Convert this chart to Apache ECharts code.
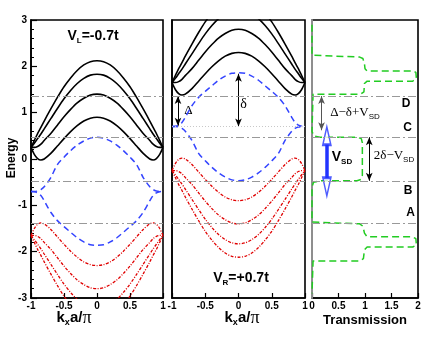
<!DOCTYPE html>
<html>
<head>
<meta charset="utf-8">
<script src="https://cdn.jsdelivr.net/npm/echarts@6/dist/echarts.min.js"></script>
<style>
  html, body { margin: 0; padding: 0; background: #fff; }
  #chart { width: 436px; height: 337px; }
</style>
</head>
<body>
<div id="chart"></div>
<script>
// k_x a / pi, half range (bands are symmetric in k)
var kHalf = [0, 0.1, 0.2, 0.3, 0.4, 0.5, 0.6, 0.7, 0.8, 0.85, 0.9, 0.95, 1];

// left lead, V_L = -0.7t
var leftBlack1 = [0.90, 0.88, 0.82, 0.72, 0.59, 0.44, 0.28, 0.12, 0.00, -0.02, 0.01, 0.10, 0.25];
var leftBlack2 = [1.40, 1.38, 1.31, 1.21, 1.07, 0.91, 0.73, 0.55, 0.40, 0.32, 0.27, 0.25, 0.25];
var leftBlack3 = [1.83, 1.81, 1.74, 1.63, 1.48, 1.30, 1.09, 0.87, 0.65, 0.54, 0.44, 0.34, 0.25];
var leftBlack4 = [2.12, 2.10, 2.03, 1.91, 1.75, 1.56, 1.33, 1.08, 0.82, 0.68, 0.55, 0.40, 0.25];
var leftBlueUp = [0.47, 0.45, 0.39, 0.30, 0.18, 0.04, -0.12, -0.40, -0.60, -0.66, -0.69, -0.70, -0.70];
var leftBlueDn = [-1.86, -1.85, -1.79, -1.70, -1.58, -1.46, -1.33, -1.15, -0.90, -0.79, -0.73, -0.705, -0.70];
var leftRed1 = [-2.30, -2.28, -2.22, -2.12, -1.99, -1.84, -1.68, -1.52, -1.40, -1.38, -1.41, -1.50, -1.65];
var leftRed2 = [-2.80, -2.78, -2.71, -2.61, -2.47, -2.31, -2.13, -1.95, -1.80, -1.72, -1.67, -1.65, -1.65];
var leftRed3 = [-3.23, -3.21, -3.14, -3.03, -2.88, -2.70, -2.49, -2.27, -2.05, -1.94, -1.84, -1.74, -1.65];
var leftRed4 = [-3.52, -3.50, -3.43, -3.31, -3.15, -2.96, -2.73, -2.48, -2.22, -2.08, -1.95, -1.80, -1.65];

// right lead, V_R = +0.7t
var rightBlack1 = [2.30, 2.28, 2.22, 2.12, 1.99, 1.84, 1.68, 1.52, 1.40, 1.38, 1.41, 1.50, 1.65];
var rightBlack2 = [2.80, 2.78, 2.71, 2.61, 2.47, 2.31, 2.13, 1.95, 1.80, 1.72, 1.67, 1.65, 1.65];
var rightBlack3 = [3.23, 3.21, 3.14, 3.03, 2.88, 2.70, 2.49, 2.27, 2.05, 1.94, 1.84, 1.74, 1.65];
var rightBlack4 = [3.52, 3.50, 3.43, 3.31, 3.15, 2.96, 2.73, 2.48, 2.22, 2.08, 1.95, 1.80, 1.65];
var rightBlueUp = [1.86, 1.85, 1.79, 1.70, 1.58, 1.46, 1.33, 1.15, 0.90, 0.79, 0.73, 0.705, 0.70];
var rightBlueDn = [-0.47, -0.45, -0.39, -0.30, -0.18, -0.04, 0.12, 0.40, 0.60, 0.66, 0.69, 0.70, 0.70];
var rightRed1 = [-0.90, -0.88, -0.82, -0.72, -0.59, -0.44, -0.28, -0.12, 0.00, 0.02, -0.01, -0.10, -0.25];
var rightRed2 = [-1.40, -1.38, -1.31, -1.21, -1.07, -0.91, -0.73, -0.55, -0.40, -0.32, -0.27, -0.25, -0.25];
var rightRed3 = [-1.83, -1.81, -1.74, -1.63, -1.48, -1.30, -1.09, -0.87, -0.65, -0.54, -0.44, -0.34, -0.25];
var rightRed4 = [-2.12, -2.10, -2.03, -1.91, -1.75, -1.56, -1.33, -1.08, -0.82, -0.68, -0.55, -0.40, -0.25];

// transmission curve (T, E)
var transT = [0, 0, 0.02, 0.9, 0.96, 0.99, 1.0, 1.04, 1.9, 1.96, 1.97, 1.9, 1.04, 0.99, 0.98, 0.92, 0.02, 0,
              0, 0.03, 0.15, 0.85, 0.93, 0.95, 0.95, 0.93, 0.85, 0.15, 0.03, 0,
              0, 0.02, 0.9, 0.96, 0.99, 1.04, 1.9, 1.96, 1.97, 1.9, 1.04, 0.99, 0.97, 0.9, 0.02, 0, 0];
var transE = [2.9, 2.24, 2.2, 2.2, 2.17, 2.05, 1.95, 1.9, 1.9, 1.87, 1.73, 1.68, 1.68, 1.63, 1.45, 1.4, 1.4, 1.36,
              0.6, 0.5, 0.47, 0.47, 0.44, 0.35, -0.35, -0.44, -0.47, -0.47, -0.5, -0.6,
              -1.36, -1.4, -1.4, -1.45, -1.6, -1.68, -1.68, -1.72, -1.86, -1.9, -1.9, -1.96, -2.15, -2.2, -2.2, -2.24, -2.9];

// reference levels
var cutLevels = [1.36, 0.47, -0.47, -1.38];
var flatLevel = 0.7;

// annotation arrows: [x, yFrom, yTo]
var deltaBig = [-0.91, 1.36, 0.72];
var deltaSmall = [0, 1.84, 0.7];
var arrowUpper = [0.18, 1.36, 0.62];
var arrowLower = [1.08, 0.47, -0.47];
var vsdArrow = [0.28, 0.72, -0.82];

function pts(vals) {
  var out = [];
  for (var i = kHalf.length - 1; i > 0; i--) out.push([-kHalf[i], vals[i]]);
  for (var j = 0; j < kHalf.length; j++) out.push([kHalf[j], vals[j]]);
  return out;
}

var blackStyle = { color: '#000', width: 1.6, type: 'solid' };
var blueStyle = { color: '#3344ff', width: 1.5, type: [6, 4] };
var redStyle = { color: '#e00000', width: 1.3, type: [3, 1.5, 1, 1.5] };

function band(vals, idx, style) {
  return {
    type: 'line', xAxisIndex: idx, yAxisIndex: idx, data: pts(vals),
    symbol: 'none', smooth: 0.3, lineStyle: style, silent: true
  };
}

function cutLines(extra) {
  var d = cutLevels.map(function (v) { return { yAxis: v }; });
  return {
    silent: true, symbol: 'none', label: { show: false }, animation: false,
    lineStyle: { color: '#999', width: 1, type: [8, 3, 2, 3] },
    data: d.concat(extra || [])
  };
}

function arrowLine(a, color) {
  var ls = { color: color || '#000', width: 1, type: 'solid' };
  return [
    { coord: [a[0], a[1]], symbol: 'arrow', lineStyle: ls },
    { coord: [a[0], a[2]], symbol: 'arrow', lineStyle: ls }
  ];
}

var tickFont = { fontSize: 10, fontWeight: 'bold', fontFamily: 'Arial, Liberation Sans', color: '#000' };

function xAxisFor(idx, min, max) {
  return {
    gridIndex: idx, type: 'value', min: min, max: max, interval: 0.5,
    axisLine: { show: true, onZero: false, lineStyle: { color: '#000', width: 1.6 } },
    axisTick: { show: true, inside: true, length: 5, lineStyle: { color: '#000', width: 1.2 } },
    axisLabel: Object.assign({ margin: 3, showMinLabel: true, showMaxLabel: true }, tickFont),
    splitLine: { show: false }
  };
}

var series = [
  // panel 1
  Object.assign(band(leftBlack1, 0, blackStyle), { markLine: cutLines() }),
  band(leftBlack2, 0, blackStyle),
  band(leftBlack3, 0, blackStyle),
  band(leftBlack4, 0, blackStyle),
  band(leftBlueUp, 0, blueStyle),
  band(leftBlueDn, 0, blueStyle),
  band(leftRed1, 0, redStyle),
  band(leftRed2, 0, redStyle),
  band(leftRed3, 0, redStyle),
  band(leftRed4, 0, redStyle),
  // panel 2
  Object.assign(band(rightBlack1, 1, blackStyle), {
    markLine: {
      silent: true, label: { show: false }, symbol: ['arrow', 'arrow'], symbolSize: [5, 8],
      lineStyle: { color: '#000', width: 1, type: 'solid' },
      data: [arrowLine(deltaBig), arrowLine(deltaSmall)]
    }
  }),
  band(rightBlack2, 1, blackStyle),
  band(rightBlack3, 1, blackStyle),
  band(rightBlack4, 1, blackStyle),
  Object.assign(band(rightBlueUp, 1, blueStyle), {
    markLine: cutLines([{ yAxis: flatLevel, lineStyle: { color: '#c8c8c8', width: 1, type: [1, 2] } }])
  }),
  band(rightBlueDn, 1, blueStyle),
  band(rightRed1, 1, redStyle),
  band(rightRed2, 1, redStyle),
  band(rightRed3, 1, redStyle),
  band(rightRed4, 1, redStyle),
  // panel 3
  {
    type: 'line', xAxisIndex: 2, yAxisIndex: 2, silent: true, symbol: 'none',
    data: transT.map(function (t, i) { return [t, transE[i]]; }),
    lineStyle: { color: '#22cc22', width: 1.5, type: [7, 4] },
    markLine: cutLines()
  },
  {
    type: 'scatter', xAxisIndex: 2, yAxisIndex: 2, silent: true, z: 4,
    symbol: 'triangle', symbolSize: [8, 18],
    itemStyle: { color: '#fff', borderColor: '#2233ff', borderWidth: 2 },
    data: [
      { value: [vsdArrow[0], 0.50] },
      { value: [vsdArrow[0], -0.60], symbolRotate: 180 }
    ],
    markLine: {
      silent: true, label: { show: false }, symbol: 'none', symbolSize: [5, 8],
      lineStyle: { color: '#000', width: 1, type: 'solid' },
      data: [
        [
          { coord: [vsdArrow[0], 0.31], lineStyle: { color: '#2233ff', width: 3.5, type: 'solid' } },
          { coord: [vsdArrow[0], -0.41], lineStyle: { color: '#2233ff', width: 3.5, type: 'solid' } }
        ],
        arrowLine(arrowUpper, '#555'),
        arrowLine(arrowLower, '#000')
      ]
    }
  }
];

var chart = echarts.init(document.getElementById('chart'), null, { renderer: 'canvas' });

var sans = 'Arial, Liberation Sans';
var serif = 'Times New Roman, Liberation Serif';

function kLabel(cx) {
  return {
    type: 'text', x: cx, y: 318, silent: true,
    style: {
      text: '{k|k}{s|x}{k|a/}{p|π}', align: 'center', verticalAlign: 'middle',
      rich: {
        k: { fontSize: 15, fontWeight: 'bold', fontFamily: sans, lineHeight: 18 },
        s: { fontSize: 9, fontWeight: 'bold', fontFamily: sans, lineHeight: 10, verticalAlign: 'bottom' },
        p: { fontSize: 18, fontFamily: serif, lineHeight: 18 }
      }
    }
  };
}

function vLabel(cx, cy, sub, rest) {
  return {
    type: 'text', x: cx, y: cy, silent: true,
    style: {
      text: '{v|V}{s|' + sub + '}{v|' + rest + '}', align: 'center', verticalAlign: 'middle',
      rich: {
        v: { fontSize: 14, fontWeight: 'bold', fontFamily: sans, lineHeight: 18 },
        s: { fontSize: 8, fontWeight: 'bold', fontFamily: sans, lineHeight: 9, verticalAlign: 'bottom' }
      }
    }
  };
}

function plain(cx, cy, txt, font, rot) {
  return {
    type: 'text', x: cx, y: cy, rotation: rot || 0, silent: true,
    style: { text: txt, font: font, fill: '#000', align: 'center', verticalAlign: 'middle' }
  };
}

chart.setOption({
  animation: false,
  backgroundColor: '#fff',
  grid: [
    { left: 31, top: 20, width: 132, height: 278, show: true, borderColor: '#000', borderWidth: 1.6 },
    { left: 172, top: 20, width: 133, height: 278, show: true, borderColor: '#000', borderWidth: 1.6 },
    { left: 312, top: 20, width: 106, height: 278, show: true, borderColor: '#000', borderWidth: 1.6 }
  ],
  xAxis: [
    xAxisFor(0, -1, 1),
    xAxisFor(1, -1, 1),
    xAxisFor(2, 0, 2)
  ],
  yAxis: [
    {
      gridIndex: 0, type: 'value', min: -3, max: 3, interval: 1,
      axisLine: { show: true, onZero: false, lineStyle: { color: '#000', width: 1.6 } },
      axisTick: { show: true, inside: true, length: 6, lineStyle: { color: '#000', width: 1.2 } },
      minorTick: { show: true, splitNumber: 5, length: 3, lineStyle: { color: '#000', width: 1 } },
      axisLabel: Object.assign({ margin: 4 }, tickFont),
      splitLine: { show: false }
    },
    {
      gridIndex: 1, type: 'value', min: -3, max: 3, interval: 1,
      axisLine: { show: true, onZero: false, lineStyle: { color: '#000', width: 1.6 } },
      axisTick: { show: false }, axisLabel: { show: false }, splitLine: { show: false }
    },
    {
      gridIndex: 2, type: 'value', min: -3, max: 3, interval: 1, z: 1,
      axisLine: { show: true, onZero: false, lineStyle: { color: '#999', width: 1.8 } },
      axisTick: { show: false }, axisLabel: { show: false }, splitLine: { show: false }
    }
  ],
  series: series,
  graphic: [
    vLabel(93, 36, 'L', '=-0.7t'),
    vLabel(241, 278, 'R', '=+0.7t'),
    plain(12, 158, 'Energy', 'bold 12px ' + sans, Math.PI / 2),
    kLabel(74),
    kLabel(242),
    plain(365, 320, 'Transmission', 'bold 13px ' + sans),
    plain(188.5, 111, 'Δ', '13px ' + serif),
    plain(243.5, 104, 'δ', '14px ' + serif),
    {
      type: 'text', x: 355, y: 113, silent: true,
      style: {
        text: '{g|Δ−δ+V}{s|SD}', align: 'center', verticalAlign: 'middle',
        rich: {
          g: { fontSize: 13, fontFamily: serif, lineHeight: 16, fill: '#000' },
          s: { fontSize: 8, fontFamily: sans, lineHeight: 9, verticalAlign: 'bottom', fill: '#000' }
        }
      }
    },
    {
      type: 'text', x: 394, y: 156, silent: true,
      style: {
        text: '{g|2δ−V}{s|SD}', align: 'center', verticalAlign: 'middle',
        rich: {
          g: { fontSize: 13, fontFamily: serif, lineHeight: 16, fill: '#000' },
          s: { fontSize: 8, fontFamily: sans, lineHeight: 9, verticalAlign: 'bottom', fill: '#000' }
        }
      }
    },
    {
      type: 'text', x: 342, y: 157, silent: true,
      style: {
        text: '{v|V}{s|SD}', align: 'center', verticalAlign: 'middle',
        rich: {
          v: { fontSize: 14, fontWeight: 'bold', fontFamily: sans, lineHeight: 17 },
          s: { fontSize: 8, fontWeight: 'bold', fontFamily: sans, lineHeight: 9, verticalAlign: 'bottom' }
        }
      }
    },
    plain(406, 104, 'D', 'bold 12px ' + sans),
    plain(407.5, 127.5, 'C', 'bold 12px ' + sans),
    plain(408, 191, 'B', 'bold 12px ' + sans),
    plain(410.5, 213, 'A', 'bold 12px ' + sans)
  ]
});
</script>
</body>
</html>
